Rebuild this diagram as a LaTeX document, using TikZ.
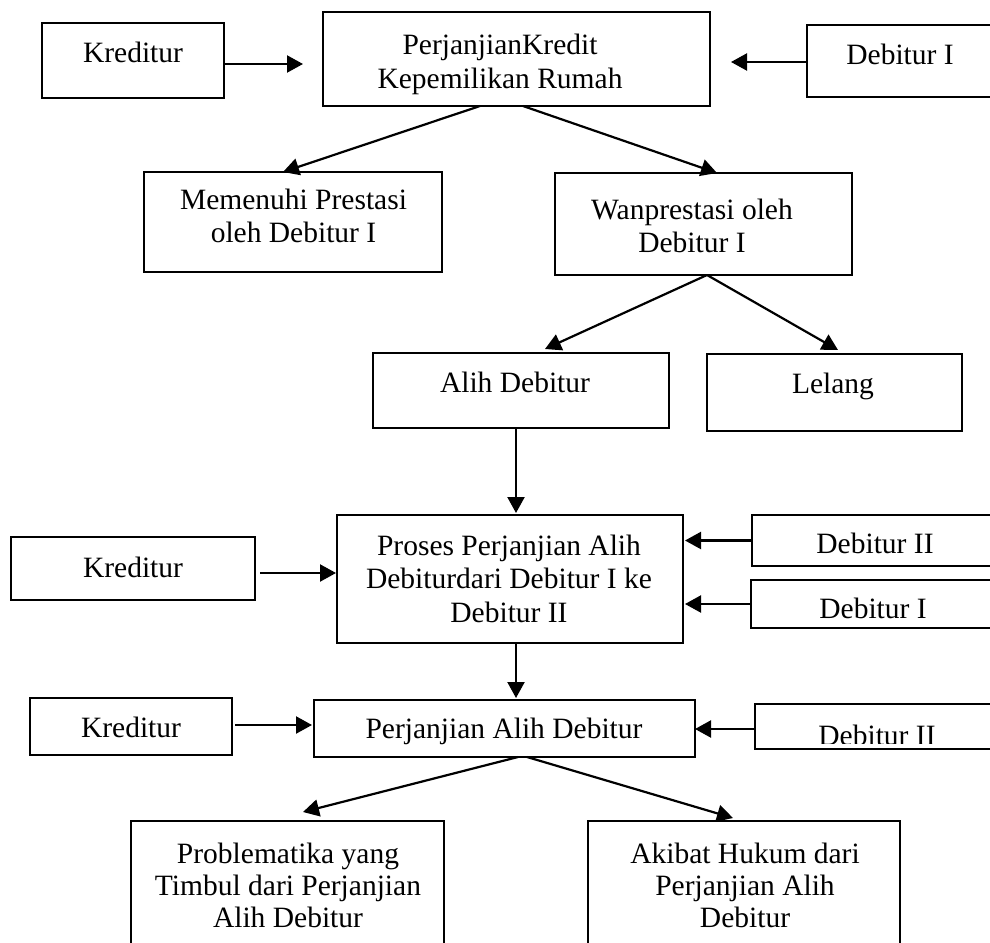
\documentclass[tikz,border=0pt]{standalone}
\usepackage{fontspec}
\setmainfont{Liberation Serif}
\usetikzlibrary{arrows.meta,calc}
\newcommand{\mlines}[1]{\begin{tabular}[t]{@{}c@{}}#1\end{tabular}}
\begin{document}
\begin{tikzpicture}[x=1pt,y=-1pt,
  box/.style={draw, line width=2pt, inner sep=0pt, outer sep=0pt},
  txt/.style={inner sep=0pt, anchor=base, font=\fontsize{29.5}{33.5}\selectfont},
  txtb/.style={inner sep=0pt, anchor=base, font=\fontsize{29.5}{32}\selectfont},
  arr/.style={line width=2.2pt, -{Triangle[length=16pt,width=17pt]}}]
\begin{scope}
\clip (0,0) rectangle (990,942);
% boxes
\node[box, minimum width=182pt, minimum height=75pt]  (kred1) at (133,60.5) {};
\node[box, minimum width=387pt, minimum height=94pt]  (pk)    at (516.5,59) {};
\node[box, minimum width=293pt, minimum height=72pt]  (deb1)  at (953.5,61) {};
\node[box, minimum width=298pt, minimum height=100pt] (mem)   at (293,222) {};
\node[box, minimum width=297pt, minimum height=102pt] (wan)   at (703.5,224) {};
\node[box, minimum width=296pt, minimum height=75pt]  (alih)  at (521,390.5) {};
\node[box, minimum width=255pt, minimum height=77pt]  (lel)   at (834.5,392.5) {};
\node[box, minimum width=346pt, minimum height=128pt] (pro)   at (510,579) {};
\node[box, minimum width=244pt, minimum height=63pt]  (kred2) at (133,568.5) {};
\node[box, minimum width=348pt, minimum height=51pt]  (deb2a) at (926,540.5) {};
\node[box, minimum width=349pt, minimum height=48pt]  (deb1b) at (925.5,604) {};
\node[box, minimum width=381pt, minimum height=57pt]  (pad)   at (504.5,728.5) {};
\node[box, minimum width=202pt, minimum height=57pt]  (kred3) at (131,726.5) {};
\node[box, minimum width=345pt, minimum height=45pt]  (deb2b) at (927.5,726.5) {};
\node[box, minimum width=313pt, minimum height=179pt] (prob)  at (287.5,910.5) {};
\node[box, minimum width=312pt, minimum height=179pt] (akb)   at (744,910.5) {};
% texts
\node[txt] (kred1t) at (133,63) {Kreditur};
\node[txt] (pkt)    at (500,55) {\mlines{PerjanjianKredit\\Kepemilikan Rumah}};
\node[txt] (deb1t)  at (900,64) {Debitur I};
\node[txt] (memt)   at (293.5,209) {\mlines{Memenuhi Prestasi\\oleh Debitur I}};
\node[txt] (want)   at (692,219) {\mlines{Wanprestasi oleh\\Debitur I}};
\node[txt] (aliht)  at (515,392) {Alih Debitur};
\node[txt] (lelt)   at (833,393) {Lelang};
\node[txt] (prot)   at (509,555) {\mlines{Proses Perjanjian Alih\\Debiturdari Debitur I ke\\Debitur II}};
\node[txt] (kred2t) at (133,577) {Kreditur};
\node[txt] (deb2at) at (875,553) {Debitur II};
\node[txt] (deb1bt) at (873,618) {Debitur I};
\node[txt] (padt)   at (504,738) {Perjanjian Alih Debitur};
\node[txt] (kred3t) at (131,737) {Kreditur};
\begin{scope}
\clip (757,706) rectangle (990,743.5);
\node[txt] (deb2bt) at (877,745) {Debitur II};
\end{scope}
\node[txtb] (probt) at (288,863) {\mlines{Problematika yang\\Timbul dari Perjanjian\\Alih Debitur}};
\node[txtb] (akbt)  at (745,863) {\mlines{Akibat Hukum dari\\Perjanjian Alih\\Debitur}};
% arrows
\draw[arr] ($(kred1.east)+(0,3.5)$) -- ($(pk.west)+(-20,5)$);
\draw[arr] ($(deb1.west)+(0,1)$) -- ($(pk.east)+(21,3)$);
\draw[arr] ($(pk.south)+(-36.5,0)$) -- ($(mem.north)+(-10,0)$);
\draw[arr] ($(pk.south)+(6.5,0)$) -- ($(wan.north)+(13.5,0)$);
\draw[arr] ($(wan.south)+(3.5,0)$) -- ($(alih.north)+(24,-4)$);
\draw[arr] ($(wan.south)+(3.5,0)$) -- ($(lel.north)+(3.5,-4)$);
\draw[arr] ($(alih.south)+(-5,0)$) -- ($(pro.north)+(6,-2)$);
\draw[arr] ($(kred2.east)+(5,4.5)$) -- ($(pro.west)+(-1,-6)$);
\draw[arr] (deb2a.west) -- ($(pro.east)+(2,-38.5)$);
\draw[arr] (deb1b.west) -- ($(pro.east)+(2,25)$);
\draw[arr] ($(pro.south)+(6,0)$) -- ($(pad.north)+(11.5,-2)$);
\draw[arr] ($(kred3.east)+(3,-1.5)$) -- ($(pad.west)+(-2,-3.5)$);
\draw[arr] ($(deb2b.west)+(0,2.5)$) -- ($(pad.east)+(0,0.5)$);
\draw[arr] ($(pad.south)+(13.5,0)$) -- ($(prob.north)+(15.5,-9)$);
\draw[arr] ($(pad.south)+(22.5,0)$) -- ($(akb.north)+(-11,-3)$);
\end{scope}
\pgfresetboundingbox
\useasboundingbox (0,0) rectangle (990,942);
\end{tikzpicture}
\end{document}
